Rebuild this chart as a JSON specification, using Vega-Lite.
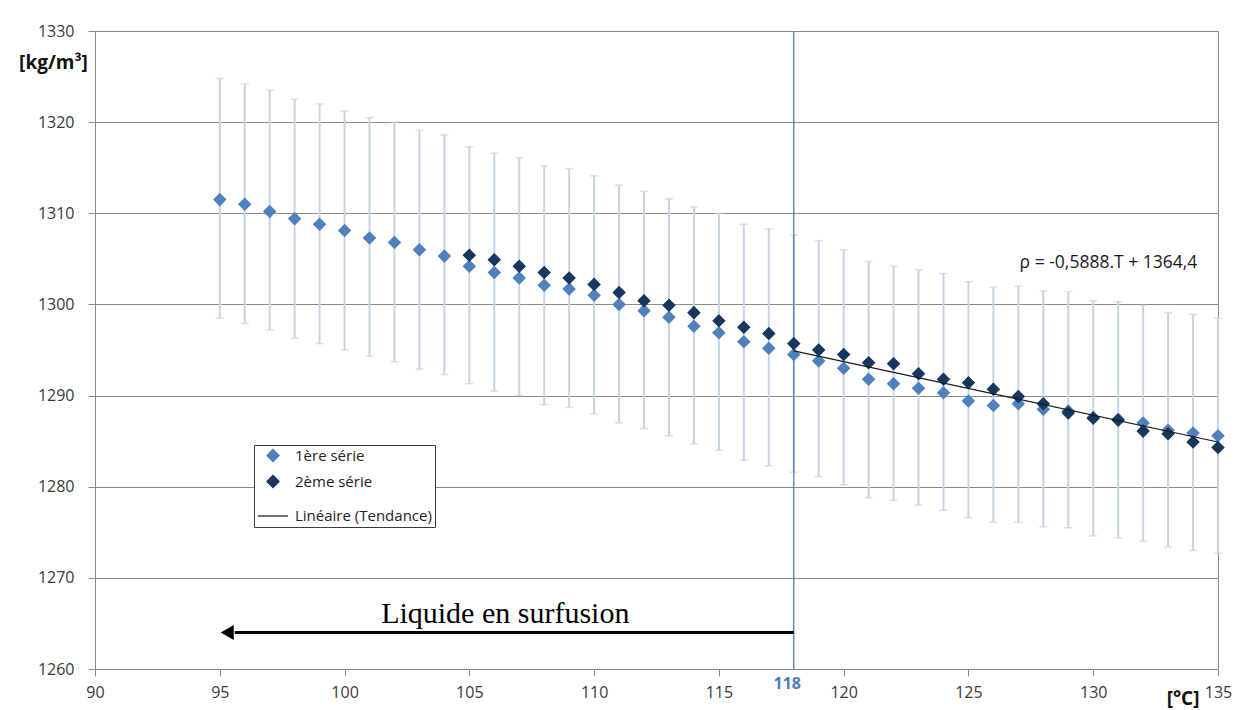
{
  "$schema": "https://vega.github.io/schema/vega-lite/v6.json",
  "width": 1123,
  "height": 638,
  "autosize": {"type": "none"},
  "padding": {"left": 95, "top": 31, "right": 25, "bottom": 41},
  "background": "white",
  "config": {
    "view": {"stroke": "#8a8a8a", "strokeWidth": 1},
    "font": "Open Sans"
  },
  "datasets": {
    "pts": [
      {"T": 95, "rho": 1311.5, "lo": 1298.5, "hi": 1324.8, "serie": "1ère série"},
      {"T": 96, "rho": 1311.0, "lo": 1297.9, "hi": 1324.2, "serie": "1ère série"},
      {"T": 97, "rho": 1310.2, "lo": 1297.2, "hi": 1323.5, "serie": "1ère série"},
      {"T": 98, "rho": 1309.4, "lo": 1296.3, "hi": 1322.5, "serie": "1ère série"},
      {"T": 99, "rho": 1308.8, "lo": 1295.7, "hi": 1322.0, "serie": "1ère série"},
      {"T": 100, "rho": 1308.1, "lo": 1295.0, "hi": 1321.2, "serie": "1ère série"},
      {"T": 101, "rho": 1307.3, "lo": 1294.3, "hi": 1320.5, "serie": "1ère série"},
      {"T": 102, "rho": 1306.8, "lo": 1293.7, "hi": 1320.0, "serie": "1ère série"},
      {"T": 103, "rho": 1306.0, "lo": 1292.9, "hi": 1319.1, "serie": "1ère série"},
      {"T": 104, "rho": 1305.3, "lo": 1292.3, "hi": 1318.6, "serie": "1ère série"},
      {"T": 105, "rho": 1304.2, "lo": 1291.3, "hi": 1317.3, "serie": "1ère série"},
      {"T": 106, "rho": 1303.5, "lo": 1290.5, "hi": 1316.6, "serie": "1ère série"},
      {"T": 107, "rho": 1302.9, "lo": 1290.0, "hi": 1316.1, "serie": "1ère série"},
      {"T": 108, "rho": 1302.1, "lo": 1289.0, "hi": 1315.2, "serie": "1ère série"},
      {"T": 109, "rho": 1301.7, "lo": 1288.7, "hi": 1314.9, "serie": "1ère série"},
      {"T": 110, "rho": 1301.0, "lo": 1288.0, "hi": 1314.1, "serie": "1ère série"},
      {"T": 111, "rho": 1300.0, "lo": 1287.0, "hi": 1313.1, "serie": "1ère série"},
      {"T": 112, "rho": 1299.3, "lo": 1286.4, "hi": 1312.4, "serie": "1ère série"},
      {"T": 113, "rho": 1298.6, "lo": 1285.6, "hi": 1311.6, "serie": "1ère série"},
      {"T": 114, "rho": 1297.6, "lo": 1284.7, "hi": 1310.7, "serie": "1ère série"},
      {"T": 115, "rho": 1296.9, "lo": 1284.0, "hi": 1310.0, "serie": "1ère série"},
      {"T": 116, "rho": 1295.9, "lo": 1282.9, "hi": 1308.8, "serie": "1ère série"},
      {"T": 117, "rho": 1295.2, "lo": 1282.3, "hi": 1308.3, "serie": "1ère série"},
      {"T": 118, "rho": 1294.5, "lo": 1281.6, "hi": 1307.6, "serie": "1ère série"},
      {"T": 119, "rho": 1293.8, "lo": 1281.1, "hi": 1307.0, "serie": "1ère série"},
      {"T": 120, "rho": 1293.0, "lo": 1280.2, "hi": 1306.0, "serie": "1ère série"},
      {"T": 121, "rho": 1291.8, "lo": 1278.8, "hi": 1304.7, "serie": "1ère série"},
      {"T": 122, "rho": 1291.3, "lo": 1278.5, "hi": 1304.2, "serie": "1ère série"},
      {"T": 123, "rho": 1290.8, "lo": 1278.0, "hi": 1303.8, "serie": "1ère série"},
      {"T": 124, "rho": 1290.3, "lo": 1277.4, "hi": 1303.4, "serie": "1ère série"},
      {"T": 125, "rho": 1289.4, "lo": 1276.6, "hi": 1302.5, "serie": "1ère série"},
      {"T": 126, "rho": 1288.9, "lo": 1276.1, "hi": 1301.9, "serie": "1ère série"},
      {"T": 127, "rho": 1289.1, "lo": 1276.1, "hi": 1302.0, "serie": "1ère série"},
      {"T": 128, "rho": 1288.5, "lo": 1275.6, "hi": 1301.5, "serie": "1ère série"},
      {"T": 129, "rho": 1288.3, "lo": 1275.5, "hi": 1301.4, "serie": "1ère série"},
      {"T": 130, "rho": 1287.6, "lo": 1274.6, "hi": 1300.4, "serie": "1ère série"},
      {"T": 131, "rho": 1287.4, "lo": 1274.4, "hi": 1300.3, "serie": "1ère série"},
      {"T": 132, "rho": 1287.0, "lo": 1274.0, "hi": 1299.9, "serie": "1ère série"},
      {"T": 133, "rho": 1286.2, "lo": 1273.4, "hi": 1299.1, "serie": "1ère série"},
      {"T": 134, "rho": 1285.9, "lo": 1273.0, "hi": 1298.9, "serie": "1ère série"},
      {"T": 135, "rho": 1285.6, "lo": 1272.7, "hi": 1298.5, "serie": "1ère série"},
      {"T": 105, "rho": 1305.4, "serie": "2ème série"},
      {"T": 106, "rho": 1304.9, "serie": "2ème série"},
      {"T": 107, "rho": 1304.2, "serie": "2ème série"},
      {"T": 108, "rho": 1303.5, "serie": "2ème série"},
      {"T": 109, "rho": 1302.9, "serie": "2ème série"},
      {"T": 110, "rho": 1302.2, "serie": "2ème série"},
      {"T": 111, "rho": 1301.3, "serie": "2ème série"},
      {"T": 112, "rho": 1300.4, "serie": "2ème série"},
      {"T": 113, "rho": 1299.9, "serie": "2ème série"},
      {"T": 114, "rho": 1299.1, "serie": "2ème série"},
      {"T": 115, "rho": 1298.2, "serie": "2ème série"},
      {"T": 116, "rho": 1297.5, "serie": "2ème série"},
      {"T": 117, "rho": 1296.8, "serie": "2ème série"},
      {"T": 118, "rho": 1295.7, "serie": "2ème série"},
      {"T": 119, "rho": 1295.0, "serie": "2ème série"},
      {"T": 120, "rho": 1294.5, "serie": "2ème série"},
      {"T": 121, "rho": 1293.6, "serie": "2ème série"},
      {"T": 122, "rho": 1293.5, "serie": "2ème série"},
      {"T": 123, "rho": 1292.4, "serie": "2ème série"},
      {"T": 124, "rho": 1291.8, "serie": "2ème série"},
      {"T": 125, "rho": 1291.4, "serie": "2ème série"},
      {"T": 126, "rho": 1290.7, "serie": "2ème série"},
      {"T": 127, "rho": 1289.9, "serie": "2ème série"},
      {"T": 128, "rho": 1289.1, "serie": "2ème série"},
      {"T": 129, "rho": 1288.1, "serie": "2ème série"},
      {"T": 130, "rho": 1287.5, "serie": "2ème série"},
      {"T": 131, "rho": 1287.3, "serie": "2ème série"},
      {"T": 132, "rho": 1286.1, "serie": "2ème série"},
      {"T": 133, "rho": 1285.8, "serie": "2ème série"},
      {"T": 134, "rho": 1284.9, "serie": "2ème série"},
      {"T": 135, "rho": 1284.3, "serie": "2ème série"}
    ],
    "trend": [
      {"T": 118, "rho": 1294.9},
      {"T": 135, "rho": 1284.9}
    ],
    "vline": [{"T": 118}],
    "arrow": [{"T1": 95.6, "T2": 118, "rho": 1264, "Thead": 95.3}],
    "notes": [
      {"T": 106.44, "rho": 1265.1, "txt": "Liquide en surfusion", "kind": "zone"},
      {"T": 127.05, "rho": 1304.6, "txt": "ρ = -0,5888.T + 1364,4", "kind": "eq"}
    ]
  },
  "layer": [
    {
      "data": {"name": "pts"},
      "transform": [{"filter": "datum.serie === '1ère série'"}],
      "mark": {"type": "rule", "color": "#C9D1E3", "strokeWidth": 2},
      "encoding": {
        "x": {
          "field": "T", "type": "quantitative",
          "scale": {"domain": [90, 135], "nice": false, "zero": false},
          "axis": {
            "values": [90, 95, 100, 105, 110, 115, 120, 125, 130, 135, 118],
            "format": "d",
            "grid": false,
            "domainColor": "#8a8a8a",
            "tickColor": "#8a8a8a",
            "tickSize": 7,
            "tickOpacity": {"condition": {"test": "datum.value === 118", "value": 0}, "value": 1},
            "labelFont": "Open Sans",
            "labelFontSize": 16,
            "labelColor": {"condition": {"test": "datum.value === 118", "value": "#4A7EBB"}, "value": "#3a3a3a"},
            "labelFontWeight": {"condition": {"test": "datum.value === 118", "value": "bold"}, "value": "normal"},
            "labelPadding": {"condition": {"test": "datum.value === 118", "value": -1}, "value": 8},
            "labelOffset": {"condition": {"test": "datum.value === 118", "value": -7}, "value": 0},
            "labelOverlap": false,
            "labelFlush": false,
            "title": "[°C]",
            "titleFont": "Open Sans",
            "titleFontSize": 19,
            "titleFontWeight": "bold",
            "titleColor": "#111111",
            "titleAlign": "right",
            "titleAnchor": null,
            "titleX": 1104,
            "titleY": 35,
            "titleBaseline": "alphabetic"
          }
        },
        "y": {
          "field": "lo", "type": "quantitative",
          "scale": {"domain": [1260, 1330], "nice": false, "zero": false},
          "axis": {
            "values": [1260, 1270, 1280, 1290, 1300, 1310, 1320, 1330],
            "format": "d",
            "grid": true,
            "gridColor": "#8a8a8a",
            "gridWidth": 1,
            "domainColor": "#8a8a8a",
            "tickColor": "#8a8a8a",
            "tickSize": 7,
            "labelFont": "Open Sans",
            "labelFontSize": 16,
            "labelColor": "#3a3a3a",
            "labelPadding": 14,
            "title": "[kg/m³]",
            "titleFont": "Open Sans",
            "titleFontSize": 19,
            "titleFontWeight": "bold",
            "titleColor": "#111111",
            "titleAngle": 0,
            "titleAlign": "center",
            "titleBaseline": "middle",
            "titleAnchor": null,
            "titleX": -42,
            "titleY": 31
          }
        },
        "y2": {"field": "hi"}
      }
    },
    {
      "data": {"name": "pts"},
      "transform": [{"filter": "datum.serie === '1ère série'"}],
      "mark": {"type": "tick", "orient": "horizontal", "color": "#C9D1E3", "size": 8, "thickness": 1.5},
      "encoding": {
        "x": {"field": "T", "type": "quantitative"},
        "y": {"field": "hi", "type": "quantitative"}
      }
    },
    {
      "data": {"name": "pts"},
      "transform": [{"filter": "datum.serie === '1ère série'"}],
      "mark": {"type": "tick", "orient": "horizontal", "color": "#C9D1E3", "size": 8, "thickness": 1.5},
      "encoding": {
        "x": {"field": "T", "type": "quantitative"},
        "y": {"field": "lo", "type": "quantitative"}
      }
    },
    {
      "data": {"name": "vline"},
      "mark": {"type": "rule", "color": "#4A7EBB", "strokeWidth": 1.3},
      "encoding": {
        "x": {"field": "T", "type": "quantitative"}
      }
    },
    {
      "data": {"name": "arrow"},
      "mark": {"type": "rule", "color": "#000000", "strokeWidth": 3},
      "encoding": {
        "x": {"field": "T1", "type": "quantitative"},
        "x2": {"field": "T2"},
        "y": {"field": "rho", "type": "quantitative"}
      }
    },
    {
      "data": {"name": "arrow"},
      "mark": {"type": "point", "shape": "triangle-left", "filled": true, "color": "#000000", "size": 225, "opacity": 1},
      "encoding": {
        "x": {"field": "Thead", "type": "quantitative"},
        "y": {"field": "rho", "type": "quantitative"}
      }
    },
    {
      "data": {"name": "notes"},
      "transform": [{"filter": "datum.kind === 'zone'"}],
      "mark": {"type": "text", "font": "Liberation Serif", "fontSize": 30, "color": "#000000", "align": "center", "baseline": "alphabetic"},
      "encoding": {
        "x": {"field": "T", "type": "quantitative"},
        "y": {"field": "rho", "type": "quantitative"},
        "text": {"field": "txt"}
      }
    },
    {
      "data": {"name": "pts"},
      "mark": {"type": "point", "filled": true, "opacity": 1, "strokeWidth": 1.2},
      "encoding": {
        "x": {"field": "T", "type": "quantitative"},
        "y": {"field": "rho", "type": "quantitative"},
        "color": {
          "field": "serie", "type": "nominal",
          "scale": {"domain": ["1ère série", "2ème série", "Linéaire (Tendance)"], "range": ["#4F81BD", "#17375E", "#404040"]},
          "legend": {
            "orient": "none", "legendX": 159, "legendY": 414, "title": null, "gridAlign": "all",
            "fillColor": "white", "strokeColor": "#3c3c3c", "padding": 3, "rowPadding": 0,
            "labelFont": "Open Sans", "labelFontSize": 15, "labelColor": "#222222", "labelOffset": 6
          }
        },
        "stroke": {
          "field": "serie", "type": "nominal",
          "scale": {"domain": ["1ère série", "2ème série", "Linéaire (Tendance)"], "range": ["#4F81BD", "#17375E", "#404040"]},
          "legend": {
            "orient": "none", "legendX": 159, "legendY": 414, "title": null, "gridAlign": "all",
            "fillColor": "white", "strokeColor": "#3c3c3c", "padding": 3, "rowPadding": 0,
            "labelFont": "Open Sans", "labelFontSize": 15, "labelColor": "#222222", "labelOffset": 6
          }
        },
        "shape": {
          "field": "serie", "type": "nominal",
          "scale": {"domain": ["1ère série", "2ème série", "Linéaire (Tendance)"], "range": ["diamond", "diamond", "stroke"]},
          "legend": {
            "orient": "none", "legendX": 159, "legendY": 414, "title": null, "gridAlign": "all",
            "fillColor": "white", "strokeColor": "#3c3c3c", "padding": 3, "rowPadding": 0,
            "labelFont": "Open Sans", "labelFontSize": 15, "labelColor": "#222222", "labelOffset": 6
          }
        },
        "size": {
          "field": "serie", "type": "nominal",
          "scale": {"type": "ordinal", "domain": ["1ère série", "2ème série", "Linéaire (Tendance)"], "range": [140, 140, 900]},
          "legend": {
            "orient": "none", "legendX": 159, "legendY": 414, "title": null, "gridAlign": "all",
            "fillColor": "white", "strokeColor": "#3c3c3c", "padding": 3, "rowPadding": 0,
            "labelFont": "Open Sans", "labelFontSize": 15, "labelColor": "#222222", "labelOffset": 6
          }
        }
      }
    },
    {
      "data": {"name": "trend"},
      "mark": {"type": "line", "color": "#1a1a1a", "strokeWidth": 1.1},
      "encoding": {
        "x": {"field": "T", "type": "quantitative"},
        "y": {"field": "rho", "type": "quantitative"}
      }
    },
    {
      "data": {"name": "notes"},
      "transform": [{"filter": "datum.kind === 'eq'"}],
      "mark": {"type": "text", "font": "Open Sans", "fontSize": 17.5, "color": "#1a1a1a", "align": "left", "baseline": "middle"},
      "encoding": {
        "x": {"field": "T", "type": "quantitative"},
        "y": {"field": "rho", "type": "quantitative"},
        "text": {"field": "txt"}
      }
    }
  ]
}
